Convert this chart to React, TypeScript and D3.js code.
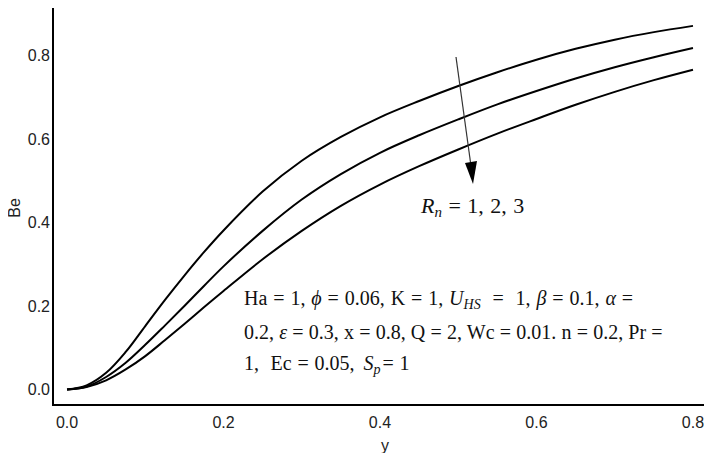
import React from "react";
import * as d3 from "d3";

const yValues = [0, 0.025, 0.05, 0.075, 0.1, 0.125, 0.15, 0.175, 0.2, 0.25, 0.3, 0.35, 0.4, 0.45, 0.5, 0.55, 0.6, 0.65, 0.7, 0.75, 0.8];
const beRn1 = [0, 0.010, 0.040, 0.090, 0.152, 0.214, 0.273, 0.329, 0.381, 0.474, 0.548, 0.605, 0.652, 0.691, 0.727, 0.760, 0.790, 0.816, 0.838, 0.856, 0.871];
const beRn2 = [0, 0.007, 0.030, 0.064, 0.107, 0.153, 0.200, 0.248, 0.295, 0.380, 0.455, 0.516, 0.567, 0.609, 0.647, 0.683, 0.715, 0.745, 0.772, 0.796, 0.818];
const beRn3 = [0, 0.006, 0.022, 0.048, 0.080, 0.118, 0.157, 0.197, 0.236, 0.312, 0.380, 0.440, 0.491, 0.535, 0.575, 0.613, 0.648, 0.682, 0.713, 0.741, 0.766];
const seriesList = [beRn1, beRn2, beRn3];
const xTicks = [0, 0.2, 0.4, 0.6, 0.8];
const yTicks = [0, 0.2, 0.4, 0.6, 0.8];

const W = 712;
const H = 461;
const NB = "\u00A0";

export default function App() {
  const x = d3.scaleLinear().domain([-0.0179, 0.8243]).range([53, 712]);
  const y = d3.scaleLinear().domain([-0.0371, 0.9210]).range([405, 5]);
  const line = d3
    .line<number>()
    .x((_, i) => x(yValues[i]))
    .y((d) => y(d))
    .curve(d3.curveCatmullRom.alpha(0.5));

  const serif = "'Liberation Serif', 'Times New Roman', serif";
  const sans = "'Liberation Sans', Arial, sans-serif";

  return (
    <svg width={W} height={H} style={{ display: "block", margin: "-8px", background: "#fff" }}>
      <rect x={0} y={0} width={W} height={H} fill="#fff" />
      {/* axes */}
      <line x1={53} y1={5} x2={53} y2={406} stroke="#000" strokeWidth={2} />
      <line x1={52} y1={405} x2={712} y2={405} stroke="#000" strokeWidth={2} />
      {yTicks.map((t) => (
        <text key={"y" + t} x={50} y={y(t)} dy="0.35em" textAnchor="end" fontFamily={sans} fontSize={16} fill="#222">
          {t.toFixed(1)}
        </text>
      ))}
      {xTicks.map((t) => (
        <text key={"x" + t} x={x(t)} y={428} textAnchor="middle" fontFamily={sans} fontSize={16} fill="#222">
          {t.toFixed(1)}
        </text>
      ))}
      <text x={385} y={451} textAnchor="middle" fontFamily={sans} fontSize={16} fill="#222">y</text>
      <text transform="translate(20,208) rotate(-90)" textAnchor="middle" fontFamily={sans} fontSize={16} fill="#222">Be</text>

      {seriesList.map((s, i) => (
        <path key={i} d={line(s) || ""} fill="none" stroke="#000" strokeWidth={2} />
      ))}

      {/* arrow */}
      <line x1={456} y1={57} x2={471} y2={166} stroke="#333" strokeWidth={1.2} />
      <path d="M465,163 L477,161 L473,184 Z" fill="#000" />
      <text x={421} y={213} fontFamily={serif} fontSize={22} fill="#111" wordSpacing={1}>
        <tspan fontStyle="italic">R</tspan>
        <tspan fontStyle="italic" fontSize={15} dy={4}>n</tspan>
        <tspan dy={-4}>{" = 1, 2, 3"}</tspan>
      </text>

      <g fontFamily={serif} fontSize={20} fill="#111">
        <text x={244} y={305} wordSpacing={0.9}>
          <tspan>{"Ha = 1, "}</tspan>
          <tspan fontStyle="italic">ϕ</tspan>
          <tspan>{" = 0.06, K = 1, "}</tspan>
          <tspan fontStyle="italic">U</tspan>
          <tspan fontStyle="italic" fontSize={14} dy={4}>HS</tspan>
          <tspan dy={-4}>{NB + NB + "=" + NB + NB + "1, "}</tspan>
          <tspan fontStyle="italic">β</tspan>
          <tspan>{" = 0.1, "}</tspan>
          <tspan fontStyle="italic">α</tspan>
          <tspan>{" ="}</tspan>
        </text>
        <text x={244} y={339} wordSpacing={0.2}>
          <tspan>{"0.2, "}</tspan>
          <tspan fontStyle="italic">ε</tspan>
          <tspan>{" = 0.3, x = 0.8, Q = 2, Wc = 0.01. n = 0.2, Pr ="}</tspan>
        </text>
        <text x={244} y={370} wordSpacing={0.8}>
          <tspan>{"1," + NB + NB + "Ec = 0.05, "}</tspan>
          <tspan fontStyle="italic" dx={3}>S</tspan>
          <tspan fontStyle="italic" fontSize={14} dy={4}>p</tspan>
          <tspan dy={-4} dx={2}>{"= 1"}</tspan>
        </text>
      </g>
    </svg>
  );
}
